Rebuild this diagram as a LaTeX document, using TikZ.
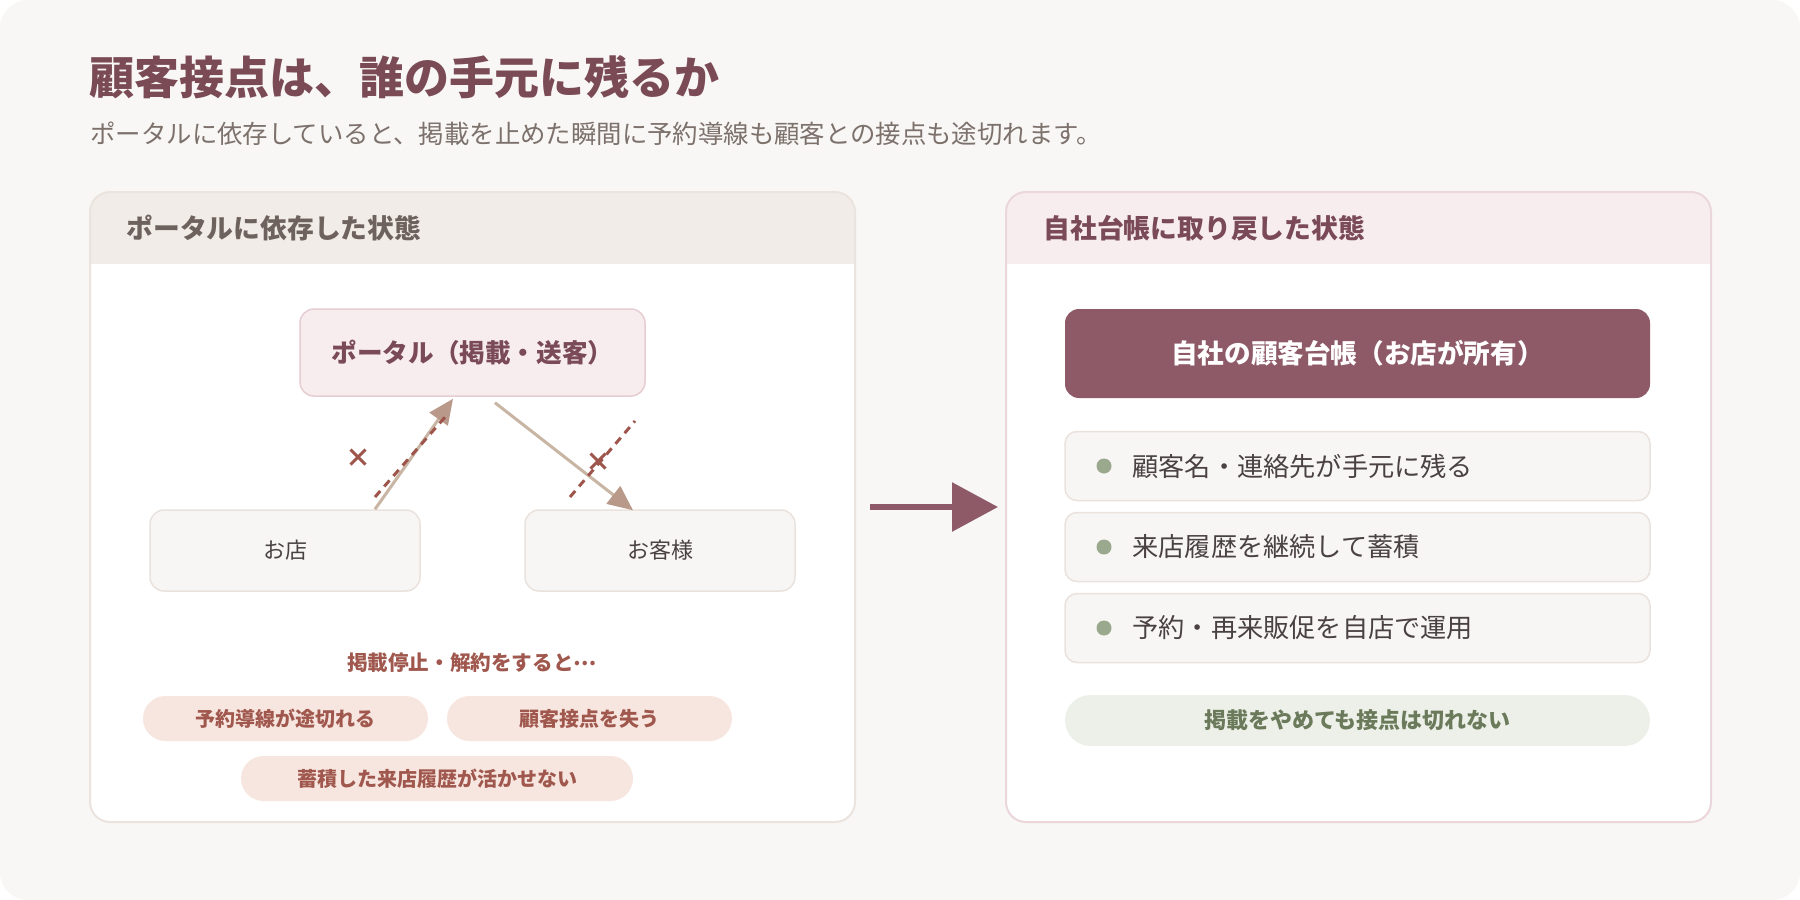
\documentclass[tikz,border=0pt]{standalone}
\usepackage{fontspec}
\setmainfont{Noto Sans CJK JP}
\usepackage{tikz}
\usetikzlibrary{arrows.meta,positioning,calc}

\definecolor{pagebg}{HTML}{F8F7F5}
\definecolor{titlecol}{HTML}{7A4A55}
\definecolor{subcol}{HTML}{7D716C}
\definecolor{lhdr}{HTML}{F1ECE8}
\definecolor{lline}{HTML}{EBE3DE}
\definecolor{rhdr}{HTML}{F7EDEF}
\definecolor{rline}{HTML}{EBD6DC}
\definecolor{graytxt}{HTML}{6E625E}
\definecolor{plum}{HTML}{8E5A68}
\definecolor{plumtxt}{HTML}{7A4A58}
\definecolor{boxfill}{HTML}{F8F6F4}
\definecolor{boxline}{HTML}{EAE2DD}
\definecolor{portalline}{HTML}{E6CDD4}
\definecolor{darktxt}{HTML}{4A4242}
\definecolor{flowline}{HTML}{C9B5A4}
\definecolor{flowhead}{HTML}{B8998A}
\definecolor{cutcol}{HTML}{9E564C}
\definecolor{losscol}{HTML}{A0584E}
\definecolor{lossfill}{HTML}{F7E6DF}
\definecolor{sage}{HTML}{9AA88E}
\definecolor{sagefill}{HTML}{EDF0E8}
\definecolor{sagetxt}{HTML}{6B7A5B}

\tikzset{
  fs/.style={font=\fontsize{#1}{#1}\selectfont},
  fsb/.style={font=\fontsize{#1}{#1}\selectfont\bfseries},
  hdrtext/.style={anchor=west,inner sep=0pt,fsb=13.4pt},
  portalbox/.style={draw=portalline,fill=rhdr,line width=0.75pt,rounded corners=7pt,
    minimum width=172.5pt,minimum height=43.5pt,text=plumtxt,fsb=12.8pt},
  placebox/.style={draw=boxline,fill=boxfill,line width=0.75pt,rounded corners=7pt,
    minimum width=135pt,minimum height=40.5pt,text=darktxt,fs=11pt},
  flow/.style={draw=flowline,line width=1.5pt,-{Triangle[length=12.5pt,width=11pt,color=flowhead]}},
  cut/.style={draw=cutcol,line width=1.5pt,dash pattern=on 4pt off 3pt},
  cross/.style={text=cutcol,fsb=13pt,inner sep=0pt},
  loss/.style={fill=lossfill,rounded corners=11.25pt,minimum height=22.5pt,
    text=losscol,fsb=10pt},
  itembox/.style={draw=boxline,fill=boxfill,line width=0.75pt,rounded corners=6pt,
    minimum width=292.5pt,minimum height=34.5pt},
  dot/.style={circle,fill=sage,minimum size=7.5pt,inner sep=0pt},
  itemtext/.style={anchor=west,inner sep=0pt,text=darktxt,fs=13.1pt}
}

\begin{document}
\begin{tikzpicture}[x=0.5pt,y=-0.5pt]
\useasboundingbox (0,0) rectangle (1800,900);
\fill[white] (0,0) rectangle (1800,900);
\fill[pagebg,rounded corners=14pt] (0,0) rectangle (1800,900);

\node[anchor=west,inner sep=0pt,text=titlecol,fsb=22.5pt] (title) at (89,77) {顧客接点は、誰の手元に残るか};
\node[anchor=west,inner sep=0pt,text=subcol,fs=12.7pt] (subtitle) at (90,134) {ポータルに依存していると、掲載を止めた瞬間に予約導線も顧客との接点も途切れます。};

% left panel
\begin{scope}
\clip[rounded corners=10pt] (90,192) rectangle (855,822);
\fill[white] (90,192) rectangle (855,822);
\fill[lhdr] (90,192) rectangle (855,264);
\end{scope}
\draw[lline,line width=1pt,rounded corners=10pt] (90,192) rectangle (855,822);
\node[hdrtext,text=graytxt] (lhead) at (126,228) {ポータルに依存した状態};

\node[portalbox] (portal) at (472.5,352.5) {ポータル（掲載・送客）};
\node[placebox] (shop) at (285,550.5) {お店};
\node[placebox] (guest) at (660,550.5) {お客様};

\draw[flow] ($(shop.north)+(90,0)$) -- ($(portal.south)+(-19.5,2)$);
\draw[flow] ($(portal.south)+(22.5,6)$) -- ($(guest.north)+(-27,1)$);
\coordinate (c1a) at (375,497); \coordinate (c1b) at (446,416);
\coordinate (c2a) at (570,497); \coordinate (c2b) at (635,421);
\draw[cut] (c1a) -- (c1b);
\draw[cut] (c2a) -- (c2b);
\node[cross] (x1) at (358,458) {×};
\node[cross] (x2) at (598,462) {×};

\node[text=losscol,fsb=10.3pt] (stop) at (472,663) {掲載停止・解約をすると\raisebox{0.28em}{…}};
\node[loss,minimum width=142.5pt] (loss1) at (285.5,718.5) {予約導線が途切れる};
\node[loss,minimum width=142.5pt] (loss2) at (589.5,718.5) {顧客接点を失う};
\node[loss,minimum width=196pt] (loss3) at (437,778.5) {蓄積した来店履歴が活かせない};

% middle arrow
\coordinate (from) at (870,507);
\coordinate (to) at (998,507);
\draw[plum,line width=3pt,-{Triangle[length=23pt,width=24pt]}] (from) -- (to);

% right panel
\begin{scope}
\clip[rounded corners=10pt] (1006,192) rectangle (1711,822);
\fill[white] (1006,192) rectangle (1711,822);
\fill[rhdr] (1006,192) rectangle (1711,264);
\end{scope}
\draw[rline,line width=1pt,rounded corners=10pt] (1006,192) rectangle (1711,822);
\node[hdrtext,text=plumtxt] (rhead) at (1043,228) {自社台帳に取り戻した状態};

\node[fill=plum,rounded corners=7pt,minimum width=292.5pt,minimum height=44.5pt,
  text=white,fsb=13.3pt] (ledger) at (1357.5,353.5) {自社の顧客台帳（お店が所有）};

\foreach \t [count=\i] in {顧客名・連絡先が手元に残る,来店履歴を継続して蓄積,予約・再来販促を自店で運用} {
  \node[itembox] (item\i) at (1357.5,385+81*\i) {};
  \node[dot] (dot\i) at (1104,385+81*\i) {};
  \node[itemtext] (txt\i) at (1132,385+81*\i) {\t};
}

\node[fill=sagefill,rounded corners=12.75pt,minimum width=292.5pt,minimum height=25.5pt,
  text=sagetxt,fsb=11pt] (keep) at (1357.5,720.5) {掲載をやめても接点は切れない};
\end{tikzpicture}
\end{document}
